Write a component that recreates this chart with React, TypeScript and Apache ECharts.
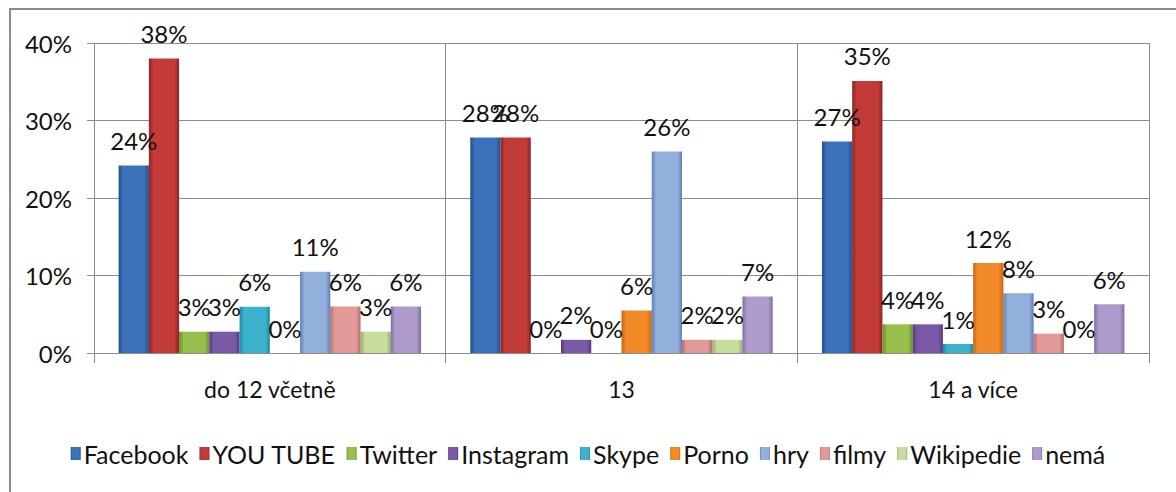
import React, { useEffect, useRef } from "react";
import * as echarts from "echarts";

const categories = ["do 12 včetně", "13", "14 a více"];
const seriesNames = ["Facebook", "YOU TUBE", "Twitter", "Instagram", "Skype", "Porno", "hry", "filmy", "Wikipedie", "nemá"];
const facebook = [24.2, 27.8, 27.3];
const youtube = [38.0, 27.8, 35.1];
const twitter = [2.75, 0, 3.7];
const instagram = [2.75, 1.7, 3.7];
const skype = [5.97, 0, 1.16];
const porno = [0, 5.5, 11.6];
const hry = [10.5, 26.0, 7.7];
const filmy = [6.0, 1.7, 2.5];
const wikipedie = [2.75, 1.7, 0];
const nema = [6.0, 7.3, 6.3];
const seriesValues = [facebook, youtube, twitter, instagram, skype, porno, hry, filmy, wikipedie, nema];
const yTicks = [0, 10, 20, 30, 40];

const baseColors = [
  ["#1f4e8c", "#3b72ba"],
  ["#8e2321", "#c23b38"],
  ["#6a8c2a", "#97bf4c"],
  ["#54397e", "#7a5aa6"],
  ["#1d8aa3", "#3cb2cc"],
  ["#c8640f", "#f28a2a"],
  ["#5f7fb3", "#93b0dc"],
  ["#b86c6a", "#e29a98"],
  ["#93ad66", "#c6dd9c"],
  ["#7f6d9c", "#ad9ccb"],
];

const FONT = "Lato";

export default function App() {
  const ref = useRef<HTMLDivElement>(null);
  useEffect(() => {
    if (!ref.current) return;
    const chart = echarts.init(ref.current, null, { renderer: "svg" });
    const series = seriesNames.map((name, i) => ({
      name,
      type: "bar",
      data: seriesValues[i],
      barGap: "0%",
      barCategoryGap: "14%",
      itemStyle: {
        color: new echarts.graphic.LinearGradient(0, 0, 1, 0, [
          { offset: 0, color: baseColors[i][0] },
          { offset: 0.15, color: baseColors[i][1] },
          { offset: 0.85, color: baseColors[i][1] },
          { offset: 1, color: baseColors[i][0] },
        ]),
      },
      label: {
        show: true,
        position: "top",
        distance: 13,
        fontFamily: FONT,
        fontSize: 24,
        color: "#111",
        formatter: (p: any) => Math.round(p.value) + "%",
      },
    }));
    chart.setOption({
      animation: false,
      backgroundColor: "#fff",
      textStyle: { fontFamily: FONT },
      grid: { left: 94, right: 27, top: 43, bottom: 139, containLabel: false },
      graphic: [
        {
          type: "rect",
          shape: { x: 10, y: 9, width: 1190, height: 520 },
          style: { fill: "none", stroke: "#8c8c8c", lineWidth: 2 },
          silent: true,
        },
      ],
      legend: {
        data: seriesNames,
        left: "center",
        top: 436,
        itemWidth: 10,
        itemHeight: 13,
        itemGap: 11,
        icon: "rect",
        textStyle: { fontFamily: FONT, fontSize: 25, color: "#111", padding: [0, 0, 0, -2] },
      },
      xAxis: {
        type: "category",
        data: categories,
        axisLine: { lineStyle: { color: "#8c8c8c" } },
        axisTick: { show: true, length: 10, lineStyle: { color: "#8c8c8c" } },
        splitLine: { show: true, lineStyle: { color: "#8c8c8c" } },
        axisLabel: { fontFamily: FONT, fontSize: 23, color: "#111", margin: 24 },
      },
      yAxis: {
        type: "value",
        min: yTicks[0],
        max: yTicks[yTicks.length - 1],
        interval: 10,
        axisLine: { show: true, lineStyle: { color: "#8c8c8c" } },
        axisTick: { show: true, length: 7, lineStyle: { color: "#8c8c8c" } },
        splitLine: { show: true, lineStyle: { color: "#8c8c8c" } },
        axisLabel: { fontFamily: FONT, fontSize: 24, color: "#111", margin: 22, formatter: "{value}%" },
      },
      series,
    });
    return () => chart.dispose();
  }, []);
  return <div ref={ref} style={{ position: "absolute", left: 0, top: 0, width: 1176, height: 492 }} />;
}
